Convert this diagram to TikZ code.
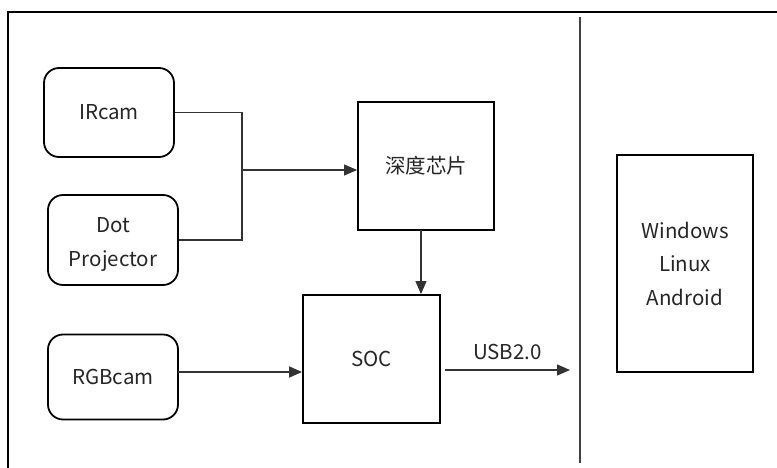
\documentclass[tikz,border=0pt]{standalone}
\usepackage{fontspec}
\setmainfont{Noto Sans CJK SC}
\usetikzlibrary{arrows.meta}
\definecolor{txt}{HTML}{262626}
\tikzset{
  box/.style={draw=black, line width=1.8pt, minimum width=#1, inner sep=0pt, align=center, text=txt, font=\fontsize{20.5}{33.5}\selectfont},
  rbox/.style={box=130pt, rounded corners=15pt},
  conn/.style={draw=black!80, line width=1.2pt},
  arr/.style={conn, -{Triangle[length=13pt,width=11pt]}},
  frame/.style={draw=black, line width=1.8pt},
  divider/.style={draw=black!75, line width=1.5pt}
}
\begin{document}
\begin{tikzpicture}[x=1pt,y=-1pt]
\useasboundingbox (0,0) rectangle (777,468);
\fill[white] (0,0) rectangle (777,468);
\draw[frame] (8,469) -- (8,12) -- (778,12);

\node[rbox, minimum height=90pt] (dot) at (113,240) {};
\node[rbox, minimum height=89pt] (ir) at (109,112.5) {IRcam};
\node[box=136pt, minimum height=128pt] (depth) at (426,166) {深度芯片};
\node[box=137pt, minimum height=128pt] (soc) at (371.5,359) {SOC};
\node[rbox, minimum height=85pt] (rgb) at (113,377) {RGBcam};
\node[box=136pt, minimum height=217pt] (os) at (685,263.5) {Windows\\Linux\\Android};
\path (dot.center) node[yshift=-4pt, align=center, inner sep=0pt, text=txt, font=\fontsize{20.5}{34}\selectfont] (dottext) {Dot\\Projector};

\coordinate (j) at (242,170);
\coordinate (dtop) at (421,230);
\coordinate (rgbout) at (178,372);
\coordinate (usbstart) at (445,370);
\coordinate (usbend) at (570,370);
\coordinate (divtop) at (580,17);
\coordinate (divbot) at (580,463);

\draw[conn] (ir.east) -| (j);
\draw[conn] (dot.east) -| (j);
\draw[arr] (j) -- (j -| depth.west);
\draw[arr] (dtop) -- (dtop |- soc.north);
\draw[arr] (rgbout) -- (rgbout -| soc.west);
\draw[arr] (usbstart) -- node[above=6pt, text=txt, font=\fontsize{20.5}{24}\selectfont] (usb) {USB2.0} (usbend);
\draw[divider] (divtop) -- (divbot);
\end{tikzpicture}
\end{document}
